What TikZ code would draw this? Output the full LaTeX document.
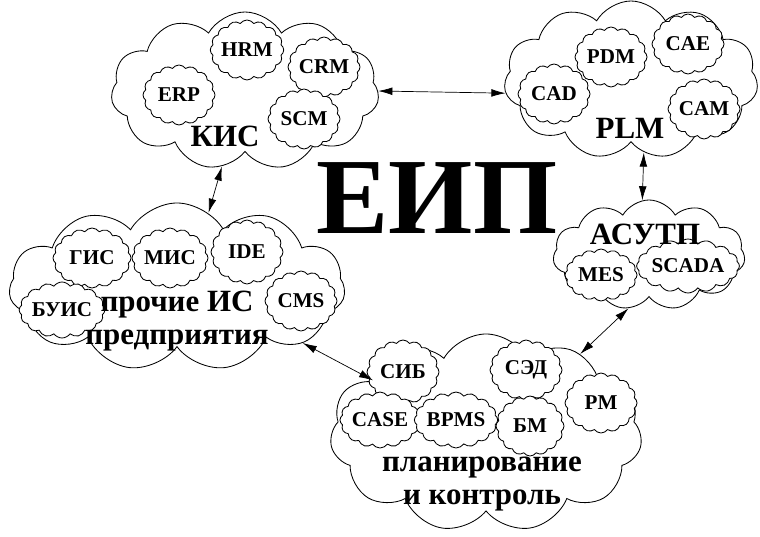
\documentclass[tikz,border=0pt]{standalone}
\usepackage{fontspec}
\setmainfont{Liberation Serif}[BoldFont={Liberation Serif Bold}]
\usetikzlibrary{shapes.symbols,arrows.meta}

\tikzset{
  bigcloud/.style={cloud, draw, fill=white, line width=0.6pt, cloud puffs=11,
    cloud puff arc=120, cloud ignores aspect, inner sep=0pt},
  smallcloud/.style={cloud, draw, fill=white, line width=0.6pt, cloud puffs=16,
    cloud puff arc=110, cloud ignores aspect, inner sep=0pt,
    minimum width=1.8cm, minimum height=1.5cm,
    font=\fontsize{15}{17}\selectfont\bfseries},
  cloudlabel/.style={font=\fontsize{22}{23}\selectfont\bfseries, align=center},
  link/.style={{Latex[length=10pt,width=5.5pt]}-{Latex[length=10pt,width=5.5pt]},
    line width=0.5pt}
}

\begin{document}
\begin{tikzpicture}[x=0.025cm, y=-0.025cm]
        \useasboundingbox (0,0) rectangle (760,537);

        % ============================================================
        % KIS cloud - top left
        % ============================================================
        \node[bigcloud, minimum width=6.7cm, minimum height=3.95cm] (kis) at (245,91) {};
        \node[smallcloud] (hrm) at (247,50) {HRM};
        \node[smallcloud] (crm) at (324,67) {CRM};
        \node[smallcloud] (erp) at (179,95) {ERP};
        \node[smallcloud] (scm) at (304,119) {SCM};
        \node[cloudlabel] (kislabel) at (225,136) {КИС};

        % ============================================================
        % PLM cloud - top right
        % ============================================================
        \node[bigcloud, minimum width=6.35cm, minimum height=3.95cm] (plm) at (631,80) {};
        \node[smallcloud] (pdm) at (611,57) {PDM};
        \node[smallcloud] (cae) at (688,44) {CAE};
        \node[smallcloud] (cad) at (554,94) {CAD};
        \node[smallcloud] (cam) at (704,109) {CAM};
        \node[cloudlabel] (plmlabel) at (630,128) {PLM};

        % ============================================================
        % ASUTP cloud - middle right
        % ============================================================
        \node[bigcloud, minimum width=4.8cm, minimum height=2.75cm] (asutp) at (649,255) {};
        \node[smallcloud, minimum height=1.3cm] (mes) at (601,275) {MES};
        \node[smallcloud, minimum width=2.3cm, minimum height=1.35cm] (scada) at (688,266) {SCADA};
        \node[cloudlabel] (asutplabel) at (645,234) {АСУТП};

        % ============================================================
        % other enterprise IS cloud - middle left
        % ============================================================
        \node[bigcloud, minimum width=8.4cm, minimum height=4.2cm] (prochie) at (177,287) {};
        \node[smallcloud, minimum width=1.95cm] (gis) at (92,258) {ГИС};
        \node[smallcloud, minimum width=1.9cm] (mis) at (170,258) {МИС};
        \node[smallcloud, minimum height=1.6cm] (ide) at (247,252) {IDE};
        \node[smallcloud, minimum width=1.875cm, minimum height=1.4cm] (buis) at (62,310) {БУИС};
        \node[smallcloud] (cms) at (301,301) {CMS};
        \node[cloudlabel] (prochielabel) at (177,321) {прочие ИС\\предприятия};

        % ============================================================
        % planning cloud - bottom
        % ============================================================
        \node[bigcloud, minimum width=7.8cm, minimum height=4.95cm] (plan) at (486,433) {};
        \node[smallcloud, minimum height=1.6cm] (sib) at (403,372) {СИБ};
        \node[smallcloud] (sed) at (526,370) {СЭД};
        \node[smallcloud] (pm) at (601,403) {PM};
        \node[smallcloud, minimum width=1.95cm, minimum height=1.4cm] (case) at (380,420) {CASE};
        \node[smallcloud, minimum width=1.875cm, minimum height=1.4cm] (bpms) at (456,420) {BPMS};
        \node[smallcloud, minimum width=1.7cm] (bm) at (530,426) {БМ};
        \node[cloudlabel] (planlabel) at (482,484) {планирование\\и контроль};

        % ============================================================
        % Title and links
        % ============================================================
        \node[font=\fontsize{77}{80}\selectfont\bfseries] (eip) at (437,198) {ЕИП};

        \draw[link] (kis.east) -- (plm.186);
        \draw[link] (plm.280) -- (asutp.97);
        \draw[link] (kis.253) -- (prochie.67);
        \draw[link] (prochie.336) -- (plan.155);
        \draw[link] (asutp.249) -- (plan.40);

\end{tikzpicture}
\end{document}
